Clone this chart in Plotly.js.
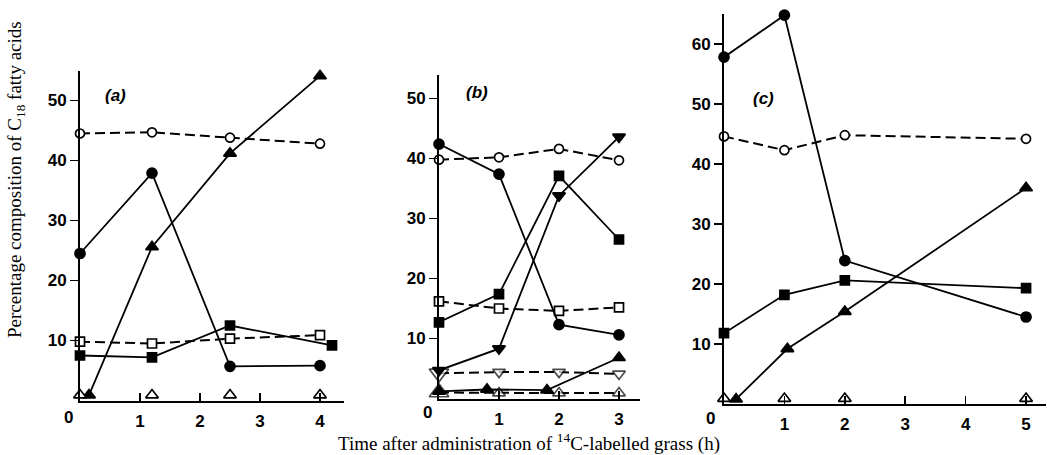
<!DOCTYPE html>
<html>
<head>
<meta charset="utf-8">
<script src="https://cdn.plot.ly/plotly-3.0.1.min.js"></script>
<style>html,body{margin:0;padding:0;background:#fff;}#chart{width:1047px;height:455px;}</style>
</head>
<body>
<div id="chart"></div>
<script>
// ---------- Data ----------
// Panel (a)
const aX = [0, 1.2, 2.5, 4];
const aOpenCircle = [44.5, 44.7, 43.8, 42.8];
const aFilledCircle = [24.5, 37.9, 5.7, 5.8];
const aTriX = [0.15, 1.2, 2.5, 4];
const aFilledTri = [0.9, 25.6, 41.2, 54.1];
const aSqX = [0, 1.2, 2.5, 4.2];
const aFilledSq = [7.5, 7.2, 12.5, 9.2];
const aOpenSq = [9.8, 9.5, 10.3, 10.9];
const aOpenTri = [0.9, 0.9, 0.9, 0.9];
// Panel (b)
const bX = [0, 1, 2, 3];
const bOpenCircle = [39.8, 40.2, 41.6, 39.7];
const bFilledCircle = [42.4, 37.4, 12.3, 10.6];
const bFilledSq = [12.7, 17.4, 37.1, 26.5];
const bFilledTriDown = [4.7, 8.3, 33.8, 43.6];
const bOpenSq = [16.2, 15.0, 14.6, 15.2];
const bOpenTriDown = [4.2, 4.4, 4.4, 4.1];
const bTriX = [0, 0.8, 1.8, 3];
const bFilledTri = [1.2, 1.5, 1.4, 6.8];
const bOpenTri = [1.0, 0.9, 0.9, 0.9];
// Panel (c)
const cX = [0, 1, 2, 5];
const cFilledCircle = [57.8, 64.8, 23.9, 14.5];
const cOpenCircle = [44.6, 42.3, 44.8, 44.2];
const cFilledSq = [11.8, 18.2, 20.6, 19.3];
const cTriX = [0.2, 1.05, 2, 5];
const cFilledTri = [0.8, 9.2, 15.4, 36.0];
const cOpenTri = [0.9, 0.9, 0.9, 0.9];

// Tick labels
const aXTicks = [1, 2, 3, 4];
const bXTicks = [1, 2, 3];
const cXTicks = [1, 2, 3, 4, 5];
const abYTicks = [10, 20, 30, 40, 50];
const cYTicks = [10, 20, 30, 40, 50, 60];
const panelLabels = ['(a)', '(b)', '(c)'];

// ---------- Styles ----------
const W = 1047, H = 455;
const px = v => v / W;
const py = v => 1 - v / H;

function tr(x, y, ax, symbol, filled, dashed, mode, size) {
  return {
    type: 'scatter', x: x, y: y,
    xaxis: 'x' + ax, yaxis: 'y' + ax,
    mode: mode || 'lines+markers',
    cliponaxis: false,
    line: {color: '#000', width: dashed ? 2 : 1.8, dash: dashed ? '10px,5px' : 'solid'},
    marker: {
      symbol: symbol,
      size: size || (symbol.indexOf('square') === 0 ? 9 : (symbol.indexOf('triangle') === 0 ? 11 : (filled ? 10 : 9))),
      color: filled ? '#000' : '#fff',
      line: {color: '#000', width: 1.7}
    },
    showlegend: false, hoverinfo: 'skip'
  };
}

const data = [
  // (a)
  tr(aX, aOpenCircle, '', 'circle', false, true),
  tr(aX, aOpenSq, '', 'square', false, true),
  tr(aX, aFilledCircle, '', 'circle', true, false),
  tr(aTriX, aFilledTri, '', 'triangle-up', true, false),
  tr(aSqX, aFilledSq, '', 'square', true, false),
  tr(aX, aOpenTri, '', 'triangle-up', false, false, 'markers'),
  // (b)
  tr(bX, bOpenCircle, '2', 'circle', false, true),
  tr(bX, bOpenSq, '2', 'square', false, true),
  tr(bX, bOpenTriDown, '2', 'triangle-down', false, true, null, [17, 11, 11, 11]),
  tr(bX, bOpenTri, '2', 'triangle-up', false, true, null, [17, 11, 11, 11]),
  tr(bX, bFilledCircle, '2', 'circle', true, false),
  tr(bX, bFilledSq, '2', 'square', true, false),
  tr(bX, bFilledTriDown, '2', 'triangle-down', true, false),
  tr(bTriX, bFilledTri, '2', 'triangle-up', true, false),
  // (c)
  tr(cX, cOpenCircle, '3', 'circle', false, true),
  tr(cX, cFilledCircle, '3', 'circle', true, false),
  tr(cX, cFilledSq, '3', 'square', true, false),
  tr(cTriX, cFilledTri, '3', 'triangle-up', true, false),
  tr(cX, cOpenTri, '3', 'triangle-up', false, false, 'markers')
];

const tickFont = {family: 'Liberation Sans Narrow, Liberation Sans, Arial', size: 17, color: '#000', weight: 'bold'};

function xax(domain, range, ticks, anchor) {
  return {
    domain: domain, range: range, anchor: anchor,
    showline: true, linecolor: '#000', linewidth: 2,
    showgrid: false, zeroline: false,
    ticks: 'inside', ticklen: 8, tickwidth: 1.5, tickcolor: '#000',
    tickvals: ticks, ticktext: ticks.map(String),
    ticklabelstandoff: 4,
    tickfont: tickFont, fixedrange: true
  };
}
function yax(domain, range, ticks, anchor) {
  return {
    domain: domain, range: range, anchor: anchor,
    showline: true, linecolor: '#000', linewidth: 2,
    showgrid: false, zeroline: false,
    ticks: 'outside', ticklen: 8, tickwidth: 1.5, tickcolor: '#000',
    tickvals: ticks, ticktext: ticks.map(String),
    tickfont: tickFont, fixedrange: true
  };
}

const panelFont = {family: 'Liberation Sans, Arial', size: 17, color: '#000', weight: 'bold', style: 'italic'};
const zeroFont = tickFont;
const titleFont = {family: 'Liberation Serif, Times New Roman, serif', size: 19, color: '#000'};

function ann(text, x, y, font, extra) {
  return Object.assign({text: text, xref: 'paper', yref: 'paper', x: px(x), y: py(y),
    xanchor: 'center', yanchor: 'middle', showarrow: false, font: font}, extra || {});
}

const layout = {
  width: W, height: H,
  margin: {l: 0, r: 0, t: 0, b: 0, pad: 0},
  paper_bgcolor: '#fff', plot_bgcolor: 'rgba(0,0,0,0)',
  showlegend: false,
  xaxis: xax([px(80), px(344)], [0, 4.4], aXTicks, 'y'),
  yaxis: yax([py(400.5), py(70.5)], [0, 55], abYTicks, 'x'),
  xaxis2: xax([px(439), px(640)], [0, 3.35], bXTicks, 'y2'),
  yaxis2: yax([py(398.5), py(74.5)], [0, 54], abYTicks, 'x2'),
  xaxis3: xax([px(724), px(1046)], [0, 5.33], cXTicks, 'y3'),
  yaxis3: yax([py(404), py(14)], [0, 65], cYTicks, 'x3'),
  annotations: [
    ann(panelLabels[0], 115, 95, panelFont),
    ann(panelLabels[1], 477, 93, panelFont),
    ann(panelLabels[2], 763, 98, panelFont),
    ann('0', 68, 417, zeroFont),
    ann('0', 427, 412, zeroFont),
    ann('0', 710, 418, zeroFont),
    ann('Percentage composition of C<sub>18</sub> fatty acids', 16, 180, titleFont, {textangle: -90}),
    ann('Time after administration of <sup>14</sup>C-labelled grass (h)', 529, 442, titleFont)
  ]
};

Plotly.newPlot('chart', data, layout, {staticPlot: true, displayModeBar: false});
</script>
</body>
</html>
